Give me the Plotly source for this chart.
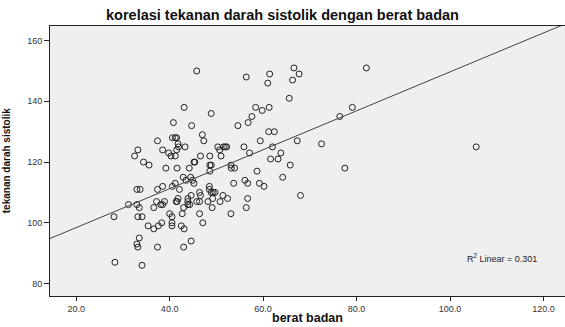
import plotly.graph_objects as go

title_text = "korelasi tekanan darah sistolik dengan berat badan"
x_title = "berat badan"
y_title = "tekanan darah sistolik"

berat = [28.3, 34.1, 28.1, 31.2, 33.0, 33.0, 33.2, 33.5, 33.2, 34.1, 33.0, 33.7, 33.5, 32.5, 33.2,
         34.4, 35.6, 35.4, 36.6, 36.6, 37.2, 37.4, 37.4, 37.4, 37.6, 38.3, 38.1, 38.5, 38.5, 38.5,
         38.9, 39.2, 39.8, 40.3, 40.0, 40.5, 40.5, 40.5, 40.6, 40.8, 40.6, 41.2, 41.5, 41.2, 41.2,
         41.4, 41.6, 41.8, 41.6, 41.5, 41.8, 41.9, 42.1, 42.5, 42.7, 43.0, 43.1, 43.1, 42.9, 43.0,
         43.3, 43.5, 43.9, 43.9, 44.3, 43.9, 44.2, 44.5, 44.6, 44.6, 44.7, 44.9, 45.2, 45.2, 45.4,
         45.8, 45.8, 46.4, 46.4, 46.4, 46.6, 46.6, 47.0, 47.3, 47.1, 48.2, 48.5, 48.5, 48.6, 48.6,
         48.9, 48.6, 48.9, 48.9, 49.3, 49.7, 49.1, 49.2, 50.3, 50.7, 50.8, 51.0, 51.4, 51.5, 51.9,
         52.2, 52.4, 53.1, 53.2, 53.9, 53.1, 53.7, 54.6, 55.9, 56.1, 56.4, 56.4, 56.7, 56.7, 56.8,
         57.1, 57.6, 58.4, 58.7, 59.2, 59.4, 59.8, 60.2, 61.0, 61.2, 61.3, 61.4, 61.6, 62.0, 62.4,
         63.2, 63.8, 64.2, 65.6, 65.8, 66.3, 66.6, 67.3, 67.7, 68.0, 72.5, 76.4, 77.5, 79.1, 82.1,
         105.6]
sistolik = [87, 86, 102, 106, 106, 93, 92, 95, 102, 102, 111, 111, 105, 122, 124,
            120, 119, 99, 98, 105, 107, 111, 127, 92, 99, 100, 106, 106, 112, 124,
            107, 118, 123, 122, 103, 102, 100, 99, 112, 133, 128, 128, 128, 122, 113,
            107, 107, 108, 118, 124, 126, 125, 111, 99, 103, 92, 138, 98, 115, 105,
            125, 114, 108, 107, 106, 106, 118, 115, 109, 94, 132, 114, 113, 120, 120,
            150, 107, 107, 110, 103, 122, 109, 129, 127, 100, 107, 112, 111, 122, 119,
            119, 117, 136, 110, 110, 110, 105, 108, 125, 124, 107, 122, 109, 125, 125,
            125, 108, 119, 118, 118, 103, 113, 132, 125, 114, 148, 105, 113, 108, 133,
            123, 135, 138, 117, 113, 127, 137, 112, 146, 130, 138, 149, 121, 125, 130,
            121, 123, 115, 141, 119, 147, 151, 127, 149, 109, 126, 135, 118, 138, 151,
            125]

x_ticks = [20, 40, 60, 80, 100, 120]
y_ticks = [80, 100, 120, 140, 160]
x_range = [14.4, 124.6]
y_range = [75.9, 164.8]

fit_intercept = 85.6
fit_slope = 0.641
r2_label = "R<sup>2</sup> Linear = 0.301"
r2_pos = (103.2, 88.3)

SANS = "Liberation Sans, Arial, sans-serif"

fig = go.Figure()
fig.add_trace(go.Scatter(
    x=berat, y=sistolik, mode="markers",
    marker=dict(symbol="circle-open", size=6, color="#222222", line=dict(width=1, color="#222222")),
    showlegend=False, hoverinfo="x+y"))

line_x = list(x_range)
line_y = [fit_intercept + fit_slope * v for v in line_x]
fig.add_trace(go.Scatter(x=line_x, y=line_y, mode="lines",
                         line=dict(color="#444444", width=1), showlegend=False, hoverinfo="skip"))

fig.add_annotation(x=r2_pos[0], y=r2_pos[1], text=r2_label, showarrow=False,
                   xanchor="left", yanchor="middle",
                   font=dict(family=SANS, size=9, color="#222222"))

# axis titles as annotations in paper coordinates
fig.add_annotation(x=0.5, y=-0.083, xref="paper", yref="paper", text="<b>" + x_title + "</b>",
                   showarrow=False, xanchor="center", yanchor="middle",
                   font=dict(family=SANS, size=12.5, color="#111111"))
fig.add_annotation(x=-0.085, y=0.5, xref="paper", yref="paper", text="<b>" + y_title + "</b>",
                   showarrow=False, xanchor="center", yanchor="middle", textangle=-90,
                   font=dict(family=SANS, size=10, color="#111111"))

fig.update_layout(
    width=565, height=327,
    margin=dict(l=50, r=0, t=26, b=31, autoexpand=False),
    paper_bgcolor="white", plot_bgcolor="#efefef",
    title=dict(text="<b>" + title_text + "</b>", x=0.5, xanchor="center",
               y=1 - 15 / 327, yanchor="middle",
               font=dict(family=SANS, size=14.5, color="#111111")),
    font=dict(family=SANS, size=9, color="#333333"),
)
fig.update_xaxes(range=x_range, tickvals=x_ticks, tickformat=".1f", ticks="outside", ticklen=4,
                 tickcolor="#222222", showgrid=False, zeroline=False, showline=True,
                 linecolor="#222222", linewidth=1, mirror=True, automargin=False,
                 tickfont=dict(size=9, color="#333333"))
fig.update_yaxes(range=y_range, tickvals=y_ticks, ticks="outside", ticklen=5,
                 tickcolor="#222222", showgrid=False, zeroline=False, showline=True,
                 linecolor="#222222", linewidth=1, mirror=True, automargin=False,
                 tickfont=dict(size=9, color="#333333"))

fig.write_html("out.html", config={"displayModeBar": False},
               post_script="document.body.style.margin='0';document.body.style.overflow='hidden';")
